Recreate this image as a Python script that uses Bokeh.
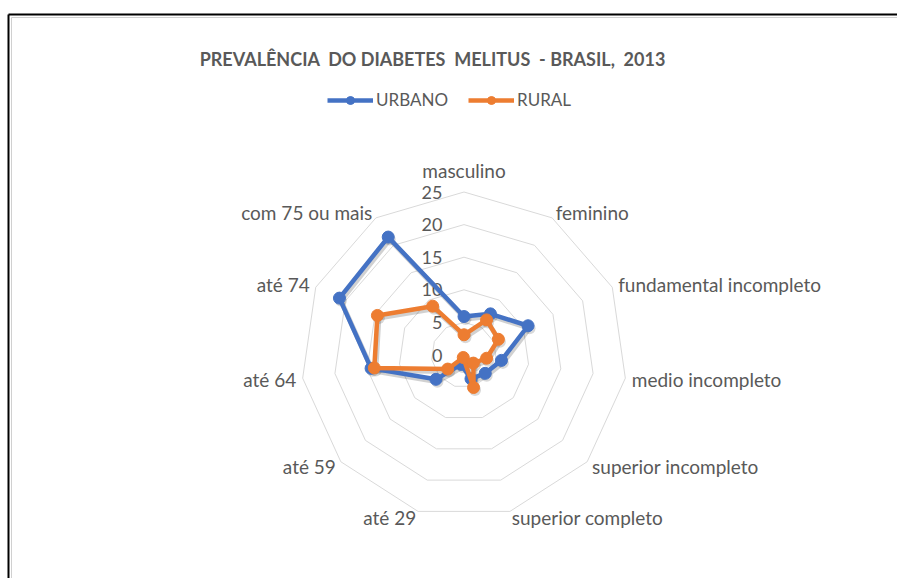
import math
from bokeh.plotting import figure
from bokeh.models import Range1d, Legend, LegendItem
from bokeh.core.properties import value
from bokeh.embed import file_html
from bokeh.resources import INLINE

# ---------------- data ----------------
categories = ["masculino", "feminino", "fundamental incompleto", "medio incompleto",
              "superior incompleto", "superior completo", "até 29", "até 59",
              "até 64", "até 74", "com 75 ou mais"]
urbano = [5.9, 7.5, 10.8, 5.8, 4.3, 3.8, 1.5, 5.7, 14.4, 21.0, 21.5]
rural = [3.1, 6.4, 5.8, 3.5, 1.9, 5.2, 0.4, 3.3, 13.9, 14.6, 8.9]
ring_values = [5, 10, 15, 20, 25]
tick_labels = ["0", "5", "10", "15", "20", "25"]
tick_values = [0, 5, 10, 15, 20, 25]
title_text = "PREVALÊNCIA\u00a0 DO DIABETES\u00a0 MELITUS\u00a0 - BRASIL,\u00a0 2013"
series_names = ["URBANO", "RURAL"]

# ---------------- layout ----------------
W, H = 897, 578
PX = 163 / 25.0            # pixels per unit
CX, CY = 463.5, 354.5      # centre in frame pixels (from top-left)

def fx(px):  # frame x pixel -> data
    return (px - CX) / PX

def fy(py):  # frame y pixel (from top) -> data
    return (CY - py) / PX

GREY = "#595959"
BLUE = "#4472C4"
ORANGE = "#ED7D31"
FONT = "Lato"

p = figure(width=W, height=H, output_backend="svg", toolbar_location=None,
           x_range=Range1d(fx(0), fx(W)), y_range=Range1d(fy(H), fy(0)),
           min_border=0, min_border_left=0, min_border_right=0,
           min_border_top=0, min_border_bottom=0)
p.axis.visible = False
p.grid.visible = False
p.outline_line_color = None
p.background_fill_color = "white"
p.border_fill_color = "white"

n = len(categories)
angles = [2 * math.pi * k / n for k in range(n)]

def polar(vals):
    xs = [v * math.sin(a) for v, a in zip(vals, angles)]
    ys = [v * math.cos(a) for v, a in zip(vals, angles)]
    return xs, ys

# chart-area border (only top & left edges fall inside the picture)
p.segment(x0=[fx(11), fx(11)], y0=[fy(17), fy(17)], x1=[fx(W), fx(11)],
          y1=[fy(17), fy(H)], line_color="#d0d0d0", line_width=1, line_cap="butt")
p.segment(x0=[fx(8), fx(8)], y0=[fy(14), fy(14)], x1=[fx(W), fx(8)],
          y1=[fy(14), fy(H)], line_color="black", line_width=2, line_cap="butt")

# grid rings
for rv in ring_values:
    xs, ys = polar([rv] * n)
    p.line(xs + [xs[0]], ys + [ys[0]], line_color="#d9d9d9", line_width=1)

# radial tick labels
p.text(x=[-3.3] * len(tick_values), y=tick_values, text=tick_labels,
       text_align="right", text_baseline="middle", text_color=GREY,
       text_font=value(FONT), text_font_size="18px")

# category labels
lx, ly, la = [], [], []
for k, a in enumerate(angles):
    s = math.sin(a)
    if abs(s) < 1e-6:
        r = 28.3
        lx.append(r * s); ly.append(r * math.cos(a)); la.append("center")
    else:
        r = 26.0
        lx.append(r * s); ly.append(r * math.cos(a))
        la.append("left" if s > 0 else "right")
p.text(x=lx, y=ly, text=categories, text_align=la, text_baseline="middle",
       text_color=GREY, text_font=value(FONT), text_font_size="19px")

# series with soft shadow
renderers = []
sdx, sdy = 1.5 / PX, -2.5 / PX
for vals, col in [(urbano, BLUE), (rural, ORANGE)]:
    xs, ys = polar(vals)
    cxs, cys = xs + [xs[0]], ys + [ys[0]]
    p.line([x + sdx for x in cxs], [y + sdy for y in cys], line_color="black",
           line_alpha=0.18, line_width=5, line_join="round")
    p.scatter([x + sdx for x in xs], [y + sdy for y in ys], size=12,
              fill_color="black", fill_alpha=0.15, line_color=None)
for vals, col in [(urbano, BLUE), (rural, ORANGE)]:
    xs, ys = polar(vals)
    cxs, cys = xs + [xs[0]], ys + [ys[0]]
    lr = p.line(cxs, cys, line_color=col, line_width=4.5, line_join="round")
    sr = p.scatter(xs, ys, size=12, fill_color=col, line_color=col)
    renderers.append((lr, sr))

# title
p.text(x=[fx(432)], y=[fy(58)], text=[title_text], text_align="center",
       text_baseline="middle", text_color=GREY, text_font=value(FONT),
       text_font_size="18px", text_font_style="bold")

# legend
items = [LegendItem(label=name, renderers=list(rr)) for name, rr in zip(series_names, renderers)]
legend = Legend(items=items, orientation="horizontal", location=(327, H - 110),
                glyph_width=46, glyph_height=20, label_standoff=3, spacing=20,
                padding=0, margin=0, border_line_color=None, background_fill_alpha=0,
                label_text_font=FONT, label_text_font_size="17px",
                label_text_color=GREY, label_height=20)
p.add_layout(legend, "center")

open("out.html", "w").write(file_html(p, INLINE))
